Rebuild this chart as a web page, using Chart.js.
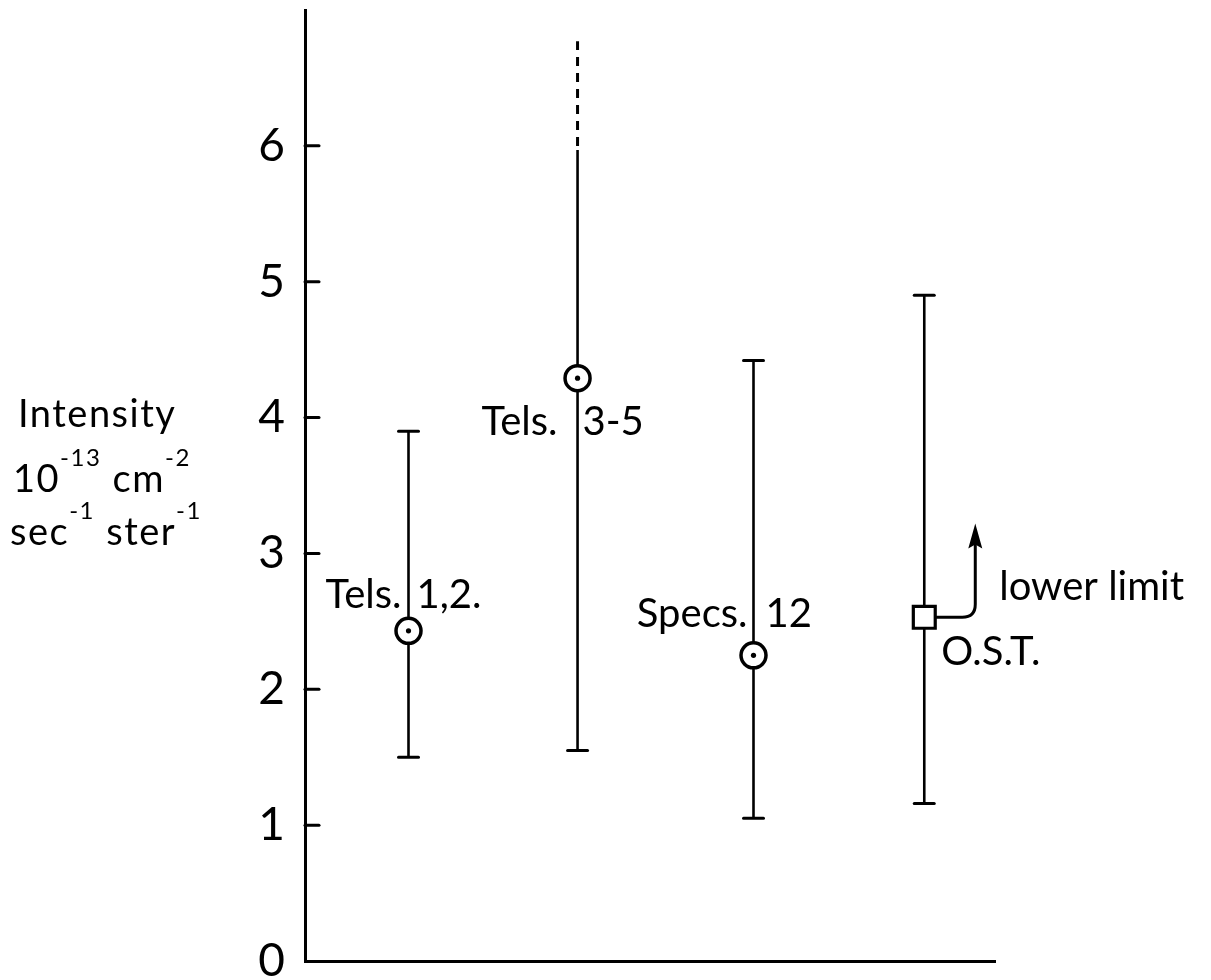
<!DOCTYPE html>
<html><head><meta charset="utf-8">
<script src="https://cdn.jsdelivr.net/npm/chart.js@4.4.1/dist/chart.umd.min.js"></script>
<style>html,body{margin:0;padding:0;background:#fff}#wrap{width:1211px;height:980px;position:relative}</style>
</head><body><div id="wrap"><canvas id="c"></canvas></div>
<script>
// ---- data ----
const categories = ['Tels. 1,2.', 'Tels. 3-5', 'Specs. 12', 'O.S.T.'];
const xPositions = [0.6, 1.58, 2.6, 3.59];
const centerValues = [2.43, 4.29, 2.25, 2.53];
const lowerValues = [1.50, 1.55, 1.05, 1.16];
const upperValues = [3.90, 5.97, 4.42, 4.90];
const dashedUpperValues = [null, 6.77, null, null];
const hasUpperCap = [true, false, true, true];
const markerKinds = ['circle', 'circle', 'circle', 'square'];
const lowerLimitArrowTop = [null, null, null, 3.22];
const lowerLimitText = 'lower limit';
const yTickValues = [0, 1, 2, 3, 4, 5, 6];
const yTickLabels = ['0', '1', '2', '3', '4', '5', '6'];
const axisTitleLines = [
  [['Intensity', false]],
  [['10', false], ['-13', true], [' cm', false], ['-2', true]],
  [['sec', false], ['-1', true], [' ster', false], ['-1', true]]
];

const FONT = 'Lato, "DejaVu Sans", sans-serif';

const idx = categories.map((_, i) => i);
const circleData = idx.filter(i => markerKinds[i] === 'circle').map(i => ({x: xPositions[i], y: centerValues[i]}));
const squareData = idx.filter(i => markerKinds[i] === 'square').map(i => ({x: xPositions[i], y: centerValues[i]}));

const drawPlugin = {
  id: 'drawPlugin',
  beforeDatasetsDraw(chart) {
    const ctx = chart.ctx, xs = chart.scales.x, ys = chart.scales.y, ca = chart.chartArea;
    ctx.save();
    ctx.strokeStyle = '#000'; ctx.fillStyle = '#000';
    ctx.lineCap = 'round';
    // inward ticks
    ctx.lineWidth = 3;
    yTickValues.forEach(v => {
      if (v === 0) return;
      const yy = ys.getPixelForValue(v);
      ctx.beginPath(); ctx.moveTo(ca.left, yy); ctx.lineTo(ca.left + 14, yy); ctx.stroke();
    });
    // error bars
    idx.forEach(i => {
      const px = xs.getPixelForValue(xPositions[i]);
      const yl = ys.getPixelForValue(lowerValues[i]);
      const yu = ys.getPixelForValue(upperValues[i]);
      ctx.lineCap = 'butt';
      ctx.lineWidth = 2.6; ctx.setLineDash([]);
      ctx.beginPath(); ctx.moveTo(px, yl); ctx.lineTo(px, yu); ctx.stroke();
      ctx.lineWidth = 3; ctx.lineCap = 'round';
      ctx.beginPath(); ctx.moveTo(px - 10, yl); ctx.lineTo(px + 10, yl); ctx.stroke();
      if (hasUpperCap[i]) {
        ctx.beginPath(); ctx.moveTo(px - 10, yu); ctx.lineTo(px + 10, yu); ctx.stroke();
      }
      if (dashedUpperValues[i] !== null) {
        const yd = ys.getPixelForValue(dashedUpperValues[i]);
        ctx.lineCap = 'butt';
        ctx.setLineDash([9, 7]); ctx.lineWidth = 3;
        ctx.beginPath(); ctx.moveTo(px, yu - 4); ctx.lineTo(px, yd); ctx.stroke();
        ctx.setLineDash([]);
      }
      if (lowerLimitArrowTop[i] !== null) {
        const py = ys.getPixelForValue(centerValues[i]);
        const ty = ys.getPixelForValue(lowerLimitArrowTop[i]);
        const ax = px + 51;
        ctx.lineWidth = 3; ctx.lineCap = 'butt';
        ctx.beginPath();
        ctx.moveTo(px + 10, py); ctx.lineTo(ax - 13, py);
        ctx.quadraticCurveTo(ax, py, ax, py - 13);
        ctx.lineTo(ax, ty + 16); ctx.stroke();
        ctx.beginPath();
        ctx.moveTo(ax, ty); ctx.lineTo(ax - 7, ty + 25); ctx.lineTo(ax, ty + 21); ctx.lineTo(ax + 7, ty + 25);
        ctx.closePath(); ctx.fill();
      }
    });
    ctx.restore();
  },
  afterDraw(chart) {
    const ctx = chart.ctx, xs = chart.scales.x, ys = chart.scales.y;
    ctx.save();
    ctx.fillStyle = '#000';
    ctx.textBaseline = 'alphabetic';
    ctx.font = '40px ' + FONT;
    // point labels split around the error bar
    const place = [
      {l: -7, r: 8, dy: -23},
      {l: -20, r: 5, dy: 57},
      {l: -6, r: 12, dy: -28},
      {l: null, r: 17, dy: 48}
    ];
    idx.forEach(i => {
      const px = xs.getPixelForValue(xPositions[i]);
      const py = ys.getPixelForValue(centerValues[i]);
      const p = place[i];
      if (p.l === null) {
        ctx.textAlign = 'left';
        ctx.fillText(categories[i], px + p.r, py + p.dy);
      } else {
        const sp = categories[i].indexOf(' ');
        ctx.textAlign = 'right';
        ctx.fillText(categories[i].slice(0, sp), px + p.l, py + p.dy);
        ctx.textAlign = 'left';
        ctx.fillText(categories[i].slice(sp + 1), px + p.r, py + p.dy);
      }
      if (lowerLimitArrowTop[i] !== null) {
        ctx.textAlign = 'left';
        ctx.fillText(lowerLimitText, px + 75, py - 17);
      }
    });
    // axis title with superscripts
    const baselines = [427, 492, 545];
    const lefts = [18, 13, 10];
    ctx.letterSpacing = '1.5px';
    axisTitleLines.forEach((line, li) => {
      let x = lefts[li];
      line.forEach(([t, sup]) => {
        ctx.textAlign = 'left';
        ctx.font = (sup ? '24px ' : '38px ') + FONT;
        ctx.fillText(t, x, baselines[li] - (sup ? 26 : 0));
        x += ctx.measureText(t).width;
      });
    });
    ctx.restore();
  }
};

new Chart(document.getElementById('c'), {
  type: 'scatter',
  data: {
    datasets: [
      {order: 1, data: circleData, pointStyle: 'circle', pointRadius: 12.5, pointHoverRadius: 12.5, borderWidth: 3.5, borderColor: '#000', backgroundColor: '#fff'},
      {order: 0, data: circleData, pointStyle: 'circle', pointRadius: 2.6, pointHoverRadius: 2.6, borderWidth: 0, borderColor: '#000', backgroundColor: '#000'},
      {order: 2, data: squareData, pointStyle: 'rect', pointRadius: 15.5, pointHoverRadius: 15.5, borderWidth: 3.2, borderColor: '#000', backgroundColor: '#fff'}
    ]
  },
  options: {
    responsive: true, maintainAspectRatio: false, animation: false,
    layout: {autoPadding: false, padding: {top: 10, right: 216, bottom: 19, left: 0}},
    plugins: {legend: {display: false}, tooltip: {enabled: false}},
    scales: {
      x: {
        type: 'linear', min: 0, max: 4,
        grid: {display: false},
        border: {display: true, width: 3, color: '#000'},
        ticks: {display: false},
        afterFit(s) { s.height = 0; s.paddingLeft = 0; s.paddingRight = 0; }
      },
      y: {
        type: 'linear', min: 0, max: 7,
        grid: {display: false},
        border: {display: true, width: 3, color: '#000'},
        afterBuildTicks(s) { s.ticks = yTickValues.map(v => ({value: v})); },
        ticks: {
          color: '#000', padding: 12,
          font: {family: FONT, size: 46},
          callback: (v) => { const k = yTickValues.indexOf(v); return k >= 0 ? yTickLabels[k] : ''; }
        },
        afterFit(s) { s.width = 305; s.paddingTop = 0; s.paddingBottom = 0; }
      }
    }
  },
  plugins: [drawPlugin]
});
</script>
</body></html>
